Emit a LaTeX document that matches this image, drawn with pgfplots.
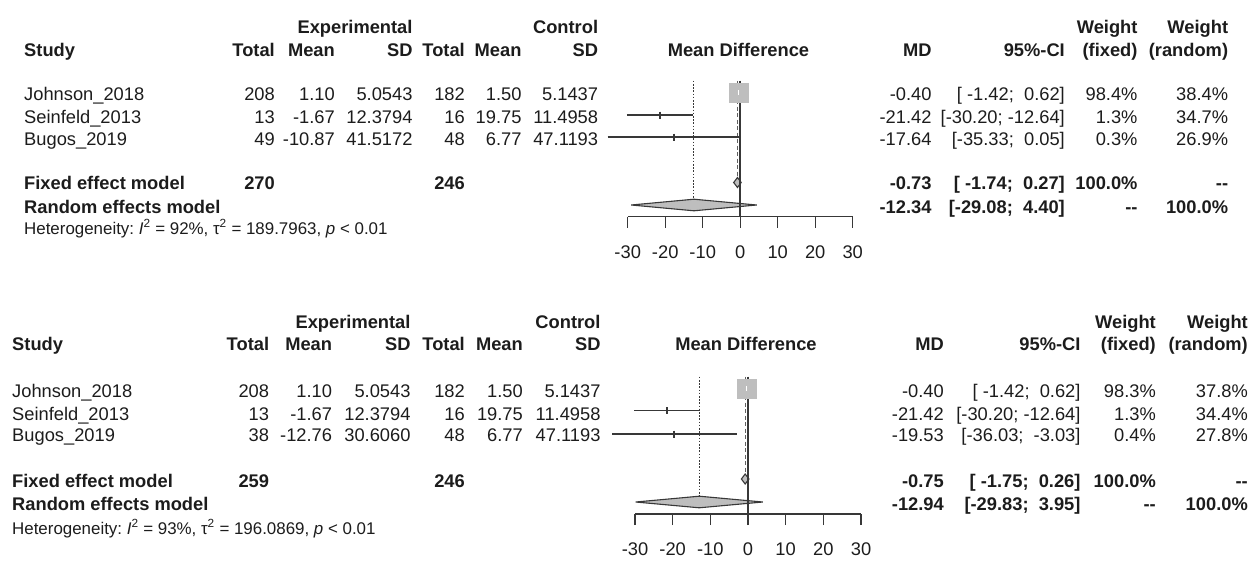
\documentclass[border=0pt]{standalone}
\usepackage{fontspec}
\setmainfont{Liberation Sans}
\usepackage{pgfplots}
\pgfplotsset{compat=1.18}
\definecolor{ln}{HTML}{383838}
\definecolor{sq}{HTML}{BEBEBE}
\definecolor{tx}{HTML}{1C1C1C}
\newcommand{\fs}{\fontsize{18.3}{22}\selectfont}
\newcommand{\hs}{\fontsize{16.9}{19}\selectfont}
\newcommand{\s}{\hspace*{0.278em}}
% right-aligned, left-aligned, centred text at pixel (x, y-centre)
\newcommand{\tr}[3]{\node[anchor=base east,inner sep=0pt,text=tx,yshift=-6.5pt] at (#1pt,-#2pt) {#3};}
\newcommand{\tl}[3]{\node[anchor=base west,inner sep=0pt,text=tx,yshift=-6.5pt] at (#1pt,-#2pt) {#3};}
\newcommand{\tc}[3]{\node[anchor=base,inner sep=0pt,text=tx,yshift=-6.5pt] at (#1pt,-#2pt) {#3};}
\newcommand{\het}[4]{\node[anchor=base west,inner sep=0pt,text=tx,yshift=-6.1pt,font=\hs] at (#1pt,-#2pt)
  {Heterogeneity:\s\textit{I}\textsuperscript{2}\s=\s#3\%,\s τ\textsuperscript{2}\s=\s#4,\s\textit{p}\s<\s0.01};}
\pgfplotsset{forest/.style={
  scale only axis, width=225pt, xmin=-30, xmax=30,
  axis x line=bottom, axis y line=none, clip=false,
  xtick={-30,-20,-10,0,10,20,30}, tick align=outside, major tick length=11pt,
  x axis line style={-, line width=1.4pt, color=ln},
  xtick style={line width=1.4pt, color=ln},
  xticklabel style={font=\fs, text=tx, yshift=-14pt},
  /pgf/number format/assume math mode=true,
  anchor=south west,
}}
\begin{document}
\begin{tikzpicture}[font=\fs]
\useasboundingbox (0,0) rectangle (1256pt,-562pt);

% ================= TOP PANEL =================
\begin{scope}[font=\fs\bfseries]
\tr{412.7}{27}{Experimental}
\tr{598.3}{27}{Control}
\tr{1137.7}{27}{Weight}
\tr{1228.3}{27}{Weight}
\tl{24}{50}{Study}
\tr{275}{50}{Total}
\tr{335}{50}{Mean}
\tr{412.7}{50}{SD}
\tr{465}{50}{Total}
\tr{521.7}{50}{Mean}
\tr{598.3}{50}{SD}
\tc{738.5}{50}{Mean Difference}
\tr{931.7}{50}{MD}
\tr{1065}{50}{95\%-CI}
\tr{1137.7}{50}{(fixed)}
\tr{1228.3}{50}{(random)}
\end{scope}

\tl{24}{94}{Johnson\_2018}
\tr{275}{94}{208}\tr{335}{94}{1.10}\tr{412.7}{94}{5.0543}
\tr{465}{94}{182}\tr{521.7}{94}{1.50}\tr{598.3}{94}{5.1437}
\tr{931.7}{94}{-0.40}\tr{1065}{94}{[\s-1.42;\s\s0.62]}\tr{1137.7}{94}{98.4\%}\tr{1228.3}{94}{38.4\%}

\tl{24}{116.5}{Seinfeld\_2013}
\tr{275}{116.5}{13}\tr{335}{116.5}{-1.67}\tr{412.7}{116.5}{12.3794}
\tr{465}{116.5}{16}\tr{521.7}{116.5}{19.75}\tr{598.3}{116.5}{11.4958}
\tr{931.7}{116.5}{-21.42}\tr{1065}{116.5}{[-30.20;\s-12.64]}\tr{1137.7}{116.5}{1.3\%}\tr{1228.3}{116.5}{34.7\%}

\tl{24}{138.5}{Bugos\_2019}
\tr{275}{138.5}{49}\tr{335}{138.5}{-10.87}\tr{412.7}{138.5}{41.5172}
\tr{465}{138.5}{48}\tr{521.7}{138.5}{6.77}\tr{598.3}{138.5}{47.1193}
\tr{931.7}{138.5}{-17.64}\tr{1065}{138.5}{[-35.33;\s\s0.05]}\tr{1137.7}{138.5}{0.3\%}\tr{1228.3}{138.5}{26.9\%}

\begin{scope}[font=\fs\bfseries]
\tl{24}{183}{Fixed effect model}
\tr{275}{183}{270}\tr{465}{183}{246}
\tr{931.7}{183}{-0.73}\tr{1065}{183}{[\s-1.74;\s\s0.27]}\tr{1137.7}{183}{100.0\%}\tr{1228.3}{183}{-{}-}
\tl{24}{206.5}{Random effects model}
\tr{931.7}{206.5}{-12.34}\tr{1065}{206.5}{[-29.08;\s\s4.40]}\tr{1137.7}{206.5}{-{}-}\tr{1228.3}{206.5}{100.0\%}
\end{scope}
\het{24}{228}{92}{189.7963}

\begin{axis}[forest, at={(627.7pt,-216.7pt)}, height=136pt, ymin=-216.7, ymax=-80.7]
  % reference lines
  \addplot[ln, line width=1pt, dash pattern=on 1.6pt off 1.6pt] coordinates {(-12.34,-80.7) (-12.34,-199)};
  \addplot[ln!80, line width=1.2pt, dash pattern=on 4pt off 2.5pt] coordinates {(-0.73,-80.7) (-0.73,-177.5)};
  % diamonds
  \addplot[fill=sq, draw=ln, line width=1.1pt] coordinates {(-29.08,-205) (-12.34,-199.2) (4.40,-205) (-12.34,-210.8)} -- cycle;
  \addplot[fill=sq, draw=ln, line width=1.1pt] coordinates {(-1.74,-182.5) (-0.73,-177.5) (0.27,-182.5) (-0.73,-187.5)} -- cycle;
  % zero line
  \addplot[ln, line width=1.6pt] coordinates {(0,-80.7) (0,-216.7)};
  % confidence intervals
  \addplot[ln, line width=1.8pt] coordinates {(-30.20,-115) (-12.64,-115)};
  \addplot[ln, line width=1.8pt] coordinates {(-35.33,-137) (0.05,-137)};
  \addplot[ln, only marks, mark=|, mark size=3.5pt, mark options={line width=2pt}] coordinates {(-21.42,-115) (-17.64,-137)};
  % Johnson: big square with white CI inside
  \addplot[only marks, mark=square*, mark size=9.5pt, mark options={fill=sq, draw=sq}] coordinates {(-0.40,-92.3)};
  \addplot[white, line width=1.3pt] coordinates {(-1.42,-92.3) (0.62,-92.3)};
  \addplot[white, only marks, mark=|, mark size=2.2pt, mark options={line width=1.3pt}] coordinates {(-0.40,-92.3)};
\end{axis}

% ================= BOTTOM PANEL =================
\begin{scope}[font=\fs\bfseries]
\tr{410.7}{321.7}{Experimental}
\tr{600.7}{321.7}{Control}
\tr{1156}{321.7}{Weight}
\tr{1248}{321.7}{Weight}
\tl{12}{343.5}{Study}
\tr{269.3}{343.5}{Total}
\tr{332.3}{343.5}{Mean}
\tr{410.7}{343.5}{SD}
\tr{465}{343.5}{Total}
\tr{523}{343.5}{Mean}
\tr{600.7}{343.5}{SD}
\tc{746}{343.5}{Mean Difference}
\tr{944}{343.5}{MD}
\tr{1080.7}{343.5}{95\%-CI}
\tr{1156}{343.5}{(fixed)}
\tr{1248}{343.5}{(random)}
\end{scope}

\tl{12}{391}{Johnson\_2018}
\tr{269.3}{391}{208}\tr{332.3}{391}{1.10}\tr{410.7}{391}{5.0543}
\tr{465}{391}{182}\tr{523}{391}{1.50}\tr{600.7}{391}{5.1437}
\tr{944}{391}{-0.40}\tr{1080.7}{391}{[\s-1.42;\s\s0.62]}\tr{1156}{391}{98.3\%}\tr{1248}{391}{37.8\%}

\tl{12}{413.5}{Seinfeld\_2013}
\tr{269.3}{413.5}{13}\tr{332.3}{413.5}{-1.67}\tr{410.7}{413.5}{12.3794}
\tr{465}{413.5}{16}\tr{523}{413.5}{19.75}\tr{600.7}{413.5}{11.4958}
\tr{944}{413.5}{-21.42}\tr{1080.7}{413.5}{[-30.20;\s-12.64]}\tr{1156}{413.5}{1.3\%}\tr{1248}{413.5}{34.4\%}

\tl{12}{435}{Bugos\_2019}
\tr{269.3}{435}{38}\tr{332.3}{435}{-12.76}\tr{410.7}{435}{30.6060}
\tr{465}{435}{48}\tr{523}{435}{6.77}\tr{600.7}{435}{47.1193}
\tr{944}{435}{-19.53}\tr{1080.7}{435}{[-36.03;\s\s-3.03]}\tr{1156}{435}{0.4\%}\tr{1248}{435}{27.8\%}

\begin{scope}[font=\fs\bfseries]
\tl{12}{480.5}{Fixed effect model}
\tr{269.3}{480.5}{259}\tr{465}{480.5}{246}
\tr{944}{480.5}{-0.75}\tr{1080.7}{480.5}{[\s-1.75;\s\s0.26]}\tr{1156}{480.5}{100.0\%}\tr{1248}{480.5}{-{}-}
\tl{12}{504}{Random effects model}
\tr{944}{504}{-12.94}\tr{1080.7}{504}{[-29.83;\s\s3.95]}\tr{1156}{504}{-{}-}\tr{1248}{504}{100.0\%}
\end{scope}
\het{12}{528}{93}{196.0869}

\begin{axis}[forest, at={(635pt,-514pt)}, width=226pt, height=137.3pt, ymin=-514, ymax=-376.7]
  \addplot[ln, line width=1pt, dash pattern=on 1.6pt off 1.6pt] coordinates {(-12.94,-376.7) (-12.94,-496)};
  \addplot[ln!80, line width=1.2pt, dash pattern=on 4pt off 2.5pt] coordinates {(-0.75,-376.7) (-0.75,-474)};
  \addplot[fill=sq, draw=ln, line width=1.1pt] coordinates {(-29.83,-502) (-12.94,-496.2) (3.95,-502) (-12.94,-507.8)} -- cycle;
  \addplot[fill=sq, draw=ln, line width=1.1pt] coordinates {(-1.75,-479) (-0.75,-474) (0.26,-479) (-0.75,-484)} -- cycle;
  \addplot[ln, line width=1.6pt] coordinates {(0,-376.7) (0,-514)};
  \addplot[ln, line width=1.8pt] coordinates {(-30.20,-410.5) (-12.64,-410.5)};
  \addplot[ln, line width=1.8pt] coordinates {(-36.03,-434) (-3.03,-434)};
  \addplot[ln, only marks, mark=|, mark size=3.5pt, mark options={line width=2pt}] coordinates {(-21.42,-410.5) (-19.53,-434)};
  \addplot[only marks, mark=square*, mark size=9.5pt, mark options={fill=sq, draw=sq}] coordinates {(-0.40,-388.3)};
  \addplot[white, line width=1.3pt] coordinates {(-1.42,-388.3) (0.62,-388.3)};
  \addplot[white, only marks, mark=|, mark size=2.2pt, mark options={line width=1.3pt}] coordinates {(-0.40,-388.3)};
\end{axis}
\end{tikzpicture}
\end{document}
